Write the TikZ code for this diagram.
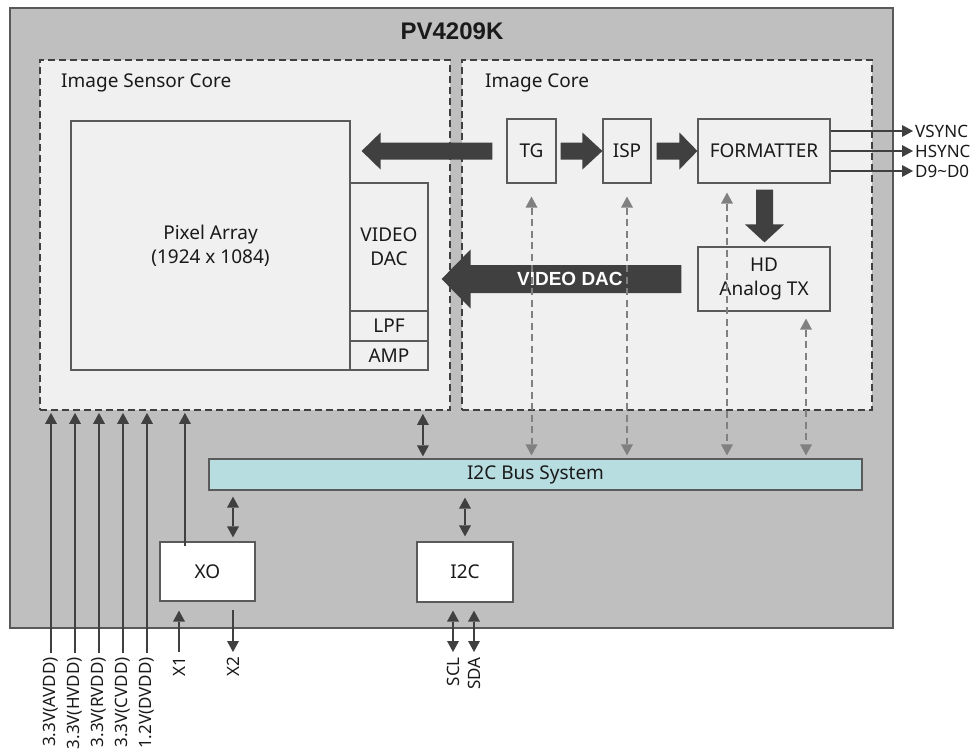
\documentclass[tikz,border=0pt]{standalone}
\usepackage{fontspec}
\setmainfont{Noto Sans}
\newfontfamily\bsans{Liberation Sans}
\usetikzlibrary{arrows.meta,calc}
\definecolor{outerfill}{HTML}{BFBFBF}
\definecolor{outerline}{HTML}{595959}
\definecolor{corefill}{HTML}{F0F0F0}
\definecolor{dashc}{HTML}{404040}
\definecolor{boxline}{HTML}{5A5A5A}
\definecolor{darkc}{HTML}{404040}
\definecolor{grayarr}{HTML}{808080}
\definecolor{busfill}{HTML}{B7DDE0}
\definecolor{txtc}{HTML}{1A1A1A}
\newcommand{\mainfs}{\fontsize{19}{24}\selectfont}
\newcommand{\pinfs}{\fontsize{17}{20}\selectfont}
% horizontal block arrow: start, tip, shaft half width, head half width, head length (signed)
\newcommand{\hblock}[5]{\fill[darkc] ($(#1)+(0,-#3)$) -- ($(#2)+(#5,-#3)$) -- ($(#2)+(#5,-#4)$) -- (#2) -- ($(#2)+(#5,#4)$) -- ($(#2)+(#5,#3)$) -- ($(#1)+(0,#3)$) -- cycle;}
% vertical block arrow
\newcommand{\vblock}[5]{\fill[darkc] ($(#1)+(-#3,0)$) -- ($(#2)+(-#3,#5)$) -- ($(#2)+(-#4,#5)$) -- (#2) -- ($(#2)+(#4,#5)$) -- ($(#2)+(#3,#5)$) -- ($(#1)+(#3,0)$) -- cycle;}
\begin{document}
\begin{tikzpicture}[x=1pt,y=-1pt,
  box/.style={draw=boxline, line width=1.2pt, fill=corefill, inner sep=0pt, text=txtc, font=\mainfs, align=center},
  wbox/.style={box, fill=white},
  core/.style={draw=dashc, dash pattern=on 7pt off 4pt, line width=1.8pt, fill=corefill, inner sep=0pt},
  tipa/.style={-{Triangle[length=11pt,width=12pt,line width=0pt]}},
  sarrow/.style={draw=darkc, line width=2.4pt, tipa},
  dbl/.style={draw=darkc, line width=2.4pt, {Triangle[length=11pt,width=12pt,line width=0pt]}-{Triangle[length=11pt,width=12pt,line width=0pt]}},
  dasharrow/.style={draw=grayarr, line width=2pt, dash pattern=on 7pt off 4.5pt, {Triangle[length=11pt,width=12pt,line width=0pt]}-{Triangle[length=11pt,width=12pt,line width=0pt]}},
  outarrow/.style={draw=darkc, line width=2pt, -{Triangle[length=11pt,width=12pt,line width=0pt]}},
  pin/.style={font=\pinfs, text=txtc, inner sep=0pt},
  vpin/.style={pin, rotate=90, anchor=east},
  lbl/.style={font=\mainfs, text=txtc, inner sep=0pt, anchor=west}
]
\useasboundingbox (0,0) rectangle (979,749);

% outer chip
\node[draw=outerline, line width=1.2pt, fill=outerfill, minimum width=883pt, minimum height=620pt, inner sep=0pt] (chip) at (451.5,318) {};
\node[font=\bsans\fontsize{24}{28}\selectfont\bfseries, text=txtc, inner sep=0pt] (title) at (452,31) {PV4209K};

% cores
\node[core, minimum width=410pt, minimum height=350pt] (ISC) at (245,235) {};
\node[core, minimum width=410pt, minimum height=350pt] (IC) at (667,235) {};
\node[lbl] (ISCl) at (61,83) {Image Sensor Core};
\node[lbl] (ICl) at (485,83) {Image Core};

% image sensor core blocks
\node[box, minimum width=279pt, minimum height=249pt] (Pixel) at (210.5,245.5) {Pixel Array\\(1924 x 1084)};
\node[box, minimum width=78pt, minimum height=128pt] (VDAC) at (389,247) {VIDEO\\DAC};
\node[box, minimum width=78pt, minimum height=30pt] (LPF) at (389,326) {LPF};
\node[box, minimum width=78pt, minimum height=29pt] (AMP) at (389,355.5) {AMP};

% image core blocks
\node[box, minimum width=49pt, minimum height=64pt] (TG) at (531.5,151) {TG};
\node[box, minimum width=48pt, minimum height=64pt] (ISP) at (627,151) {ISP};
\node[box, minimum width=132pt, minimum height=64pt] (FORM) at (764,151) {FORMATTER};
\node[box, minimum width=132pt, minimum height=64pt] (HD) at (764,279) {HD\\Analog TX};

% bus and lower blocks
\node[box, fill=busfill, minimum width=653pt, minimum height=31pt] (Bus) at (535.5,474.5) {I2C Bus System};
\node[wbox, minimum width=95pt, minimum height=59pt] (XO) at (207.5,571.5) {XO};
\node[wbox, minimum width=96pt, minimum height=60pt] (I2C) at (465,572) {I2C};

% block arrows
\coordinate (a1s) at ($(TG.west)+(-14,0)$);
\coordinate (a1t) at ($(Pixel.east)+(11,-94.5)$);
\hblock{a1s}{a1t}{8.5}{18.5}{19}
\coordinate (a2s) at ($(TG.east)+(4,0)$);
\hblock{a2s}{ISP.west}{8.5}{18.5}{-20}
\coordinate (a3s) at ($(ISP.east)+(5,0)$);
\hblock{a3s}{FORM.west}{8.5}{18.5}{-18}
\coordinate (a4s) at ($(FORM.south)+(0.5,6)$);
\coordinate (a4t) at ($(HD.north)+(0.5,-4)$);
\vblock{a4s}{a4t}{8.5}{19.5}{-18}
\coordinate (a5s) at ($(HD.west)+(-16,0)$);
\coordinate (a5t) at ($(VDAC.east)+(13,32)$);
\hblock{a5s}{a5t}{14}{29.5}{29}
\node[font=\bsans\fontsize{19}{24}\selectfont\bfseries, text=white, inner sep=0pt] (dactxt) at ($(a5t)!0.535!(a5s)$) {VIDEO DAC};

% output signals
\node[pin, anchor=west] (vs) at (915,131) {VSYNC};
\node[pin, anchor=west] (hs) at (915,151) {HSYNC};
\node[pin, anchor=west] (dd) at (915,171) {D9\textasciitilde D0};
\draw[outarrow] (FORM.east |- vs.west) -- ($(vs.west)+(-2,0)$);
\draw[outarrow] (FORM.east |- hs.west) -- ($(hs.west)+(-2,0)$);
\draw[outarrow] (FORM.east |- dd.west) -- ($(dd.west)+(-2,0)$);

% dashed control arrows
\draw[dasharrow] ($(TG.south)+(0,13)$) -- ($(TG.south |- Bus.north)+(0,-3)$);
\draw[dasharrow] ($(ISP.south)+(0,13)$) -- ($(ISP.south |- Bus.north)+(0,-3)$);
\draw[dasharrow] ($(FORM.south)+(-37,9)$) -- ($(FORM.south |- Bus.north)+(-37,-3)$);
\draw[dasharrow] ($(HD.south)+(42,7)$) -- ($(HD.south |- Bus.north)+(42,-3)$);

% dark bus arrows
\draw[dbl] ($(ISC.south east)+(-28,3)$) -- ($(ISC.south east |- Bus.north)+(-28,-2)$);
\draw[dbl] ($(XO.north)+(25.5,-4)$) -- ($(XO.north |- Bus.south)+(25.5,6)$);
\draw[dbl] ($(I2C.north)+(0,-5)$) -- ($(I2C.north |- Bus.south)+(0,7)$);

% power pins
\node[vpin] (p1) at (51,657) {3.3V(AVDD)};
\node[vpin] (p2) at (75,657) {3.3V(HVDD)};
\node[vpin] (p3) at (99,657) {3.3V(RVDD)};
\node[vpin] (p4) at (123,657) {3.3V(CVDD)};
\node[vpin] (p5) at (147,657) {1.2V(DVDD)};
\foreach \p in {p1,p2,p3,p4,p5}{
  \draw[sarrow] ($(\p.east)+(0,-4)$) -- ($(\p.east |- ISC.south)+(0,2)$);
}

% XO pins
\coordinate (xoline) at ($(XO.north west)+(25.5,5)$);
\draw[sarrow] (xoline) -- ($(xoline |- ISC.south)+(0,2)$);
\node[vpin] (x1) at (179,657) {X1};
\node[vpin] (x2) at (233,657) {X2};
\draw[sarrow] ($(x1.east)+(0,-5)$) -- ($(x1.east |- XO.south)+(0,9)$);
\draw[sarrow] ($(x2.east |- XO.south)+(0,8)$) -- ($(x2.east)+(0,-5)$);

% I2C pins
\node[vpin] (scl) at (453,657) {SCL};
\node[vpin] (sda) at (474,657) {SDA};
\draw[dbl] ($(scl.east)+(0,-5)$) -- ($(scl.east |- I2C.south)+(0,8)$);
\draw[dbl] ($(sda.east)+(0,-5)$) -- ($(sda.east |- I2C.south)+(0,8)$);
\end{tikzpicture}
\end{document}
